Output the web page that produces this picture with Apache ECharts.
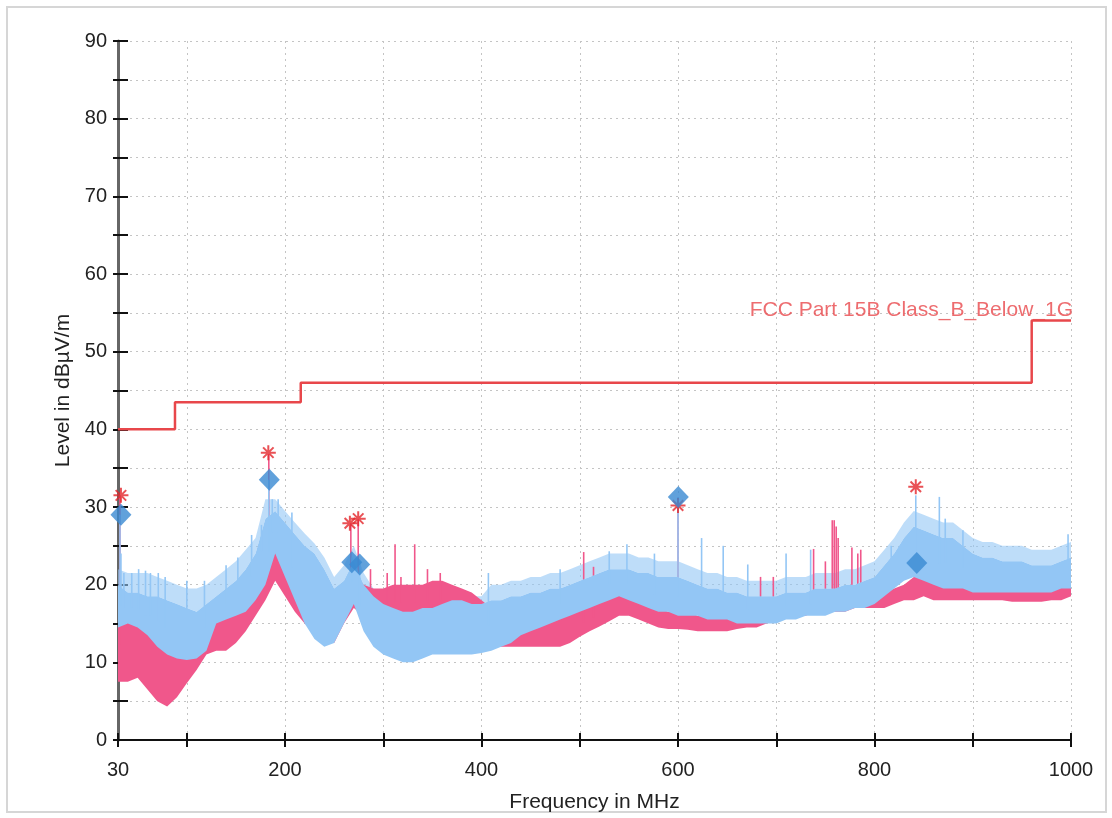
<!DOCTYPE html>
<html><head><meta charset="utf-8">
<script src="https://cdn.jsdelivr.net/npm/echarts@6/dist/echarts.min.js"></script>
<style>html,body{margin:0;padding:0;background:#fff;}#c{width:1112px;height:818px;}</style>
</head><body><div id="c"></div>
<script>
// Frequency samples (MHz)
const freqs = [30,40,50,60,70,80,90,100,110,120,130,140,150,160,170,180,190,200,210,220,230,240,250,260,270,280,290,300,310,320,330,340,350,360,370,380,390,400,410,420,430,440,450,460,470,480,490,500,510,520,530,540,550,560,570,580,590,600,610,620,630,640,650,660,670,680,690,700,710,720,730,740,750,760,770,780,790,800,810,820,830,840,850,860,870,880,890,900,910,920,930,940,950,960,970,980,990,1000];
// Blue trace: dense core (lo..hi) and reach of the noise above it (top)
const blueTop = [22,21.5,21.5,21.5,21,20.5,20,19.5,19.5,20,21,22,23,24.5,26,31,31,29.5,28,26.6,25.3,23.5,21,22.5,25,21.5,19.5,18.5,18,17.5,17.5,18,18,18.5,19,19,18.5,18.5,20,20,20.5,20.5,21,21,21.5,21.5,22,22.5,23,23.5,24,24,24,23.5,23.5,23,23,23,22.5,22,21.5,21.5,21,21,20.5,20.5,20.5,20.5,21,21,21,21.5,21.5,21.5,22,22,22.5,23,24.5,26,28,29.5,29,28.5,28,28,27,26,25.5,25.5,25,25,25,24.5,24.5,24.5,25,25.5];
const blueHi = [20,19,19,18.5,18.5,18,17.5,17,16.5,17.5,18.5,19.5,20.5,22,24,28.5,29.5,28,26.5,25,24,22,19.5,20.5,23,20,18.5,17.5,17,16.5,16.5,17,17,17.5,18,18,17.5,17.5,18,18,18.5,18.5,19,19,19.5,19.5,20,20.5,21,21.5,22,22,22,21.5,21.5,21,21,21,20.5,20,19.5,19.5,19,19,18.5,18.5,18.5,18.5,19,19,19,19.5,19.5,19.5,20,20,20.5,21,22.5,24,26,27.5,27,26.5,26,26,25,24,23.5,23.5,23,23,23,22.5,22.5,22.5,23,23.5];
const blueLo = [14.5,15,14.5,13.5,12,11,10.5,10.3,10.5,11.5,15,15.5,16,16.5,18,20,24,21,18,15,13,12,12.5,15,17.5,14,12,11,10.5,10,10,10.5,11,11,11,11,11,11.2,11.5,12,12.5,13.5,14,14.5,15,15.5,16,16.5,17,17.5,18,18.5,18,17.5,17,16.5,16.5,16,16,16,15.5,15.5,15.5,15,15,15,15,15,15.5,15.5,16,16,16,16.5,16.5,17,17,17.5,18.5,19.5,20.5,21,20.5,20,19.5,19.5,19.5,19,19,19,19,19,19,19,19,19,19.5,19.5];
// Pink trace envelope (dBµV/m)
const pinkHi = [17,16,15,14,13,12.5,12.5,13,14,15,16,17,18,19.5,21,25,27,23,21,19,17.5,16.5,17,19,22,20,19.5,19.5,20,20,20,20,20.5,20.5,20,19.5,19,18,17,16,15.5,15.5,15.5,15.5,15.5,16,16.5,17,17.5,18,18.5,19,18.5,18,17.5,17,16.5,17,16.5,16,16,16,16,16.5,16.5,17,17.5,18,18.5,18.5,18.5,19,19,19,19,19,19,19,19,19.5,20,21,21,20.5,20,20,20,20,20,20,20,20,20,20,20,20,20.5,20.5];
const pinkLo = [7.5,7.5,8,6.5,5,4.3,5.5,7.3,9,11,11.5,11.5,12.5,14,16,18,20.5,18.5,16.5,15,14,12.5,12.5,15,17,16,15.5,15,15.5,15.5,15.5,15.5,15.5,15.5,15.5,15,14.5,13.5,12.5,12,12,12,12,12,12,12,12.5,13.3,14,14.6,15.3,16,16,15.5,15,14.5,14.3,14.3,14.2,14,14,14,14,14.3,14.5,14.5,15,15.5,16,16,16,16.5,16.5,16.5,16.5,17,17,17,17,17.5,18,18,18.5,18,18,18,18,18,18,18,18,17.8,17.8,17.8,17.8,18,18,18.5];
// Narrow spikes (frequency, top level)
const blueSpikeF = [32,33,36,44,51,58,63,71,78,100,118,140,152,166,176,183.5,187,193,207,268,276,407,480,530,548,576,600,624,646,671,710,735,817,842,866,872,890,997];
const blueSpikeV = [29,24,21.5,21.5,22,21.8,21.5,21.5,21,20.5,20.5,22.5,23.5,26.4,27.7,33.5,31,31,29.3,23.5,23,21.5,22,24.3,25.2,24,31.3,26,25,22.6,24,24.5,25,31.5,31.3,28.5,27,26.5];
const pinkSpikeF = [32,183.5,267,274.5,287,304,312,318,332,345,358,504,514,600,684,697,738,750,757,759,761,763,777,783,786];
const pinkSpikeV = [31.5,36.8,27.9,28.4,22,21.5,25.2,21,25.2,22,21.5,24.2,22.3,30.2,21,21,24.6,23,28.3,28.3,27.5,26,24.8,24,24.5];
// Limit line
const limitF = [30,88,88,216,216,960,960,1000];
const limitV = [40,40,43.5,43.5,46,46,54,54];
const limitName = 'FCC Part 15B Class_B_Below_1G';
// Markers
const peakF = [33,183,266,274.5,600,842];
const peakV = [31.5,37,27.9,28.5,30.2,32.6];
const qpF = [33,184,268,276,600.3,843];
const qpV = [29,33.5,22.9,22.6,31.3,22.8];
// Axis ticks
const xTicks = [30,100,200,300,400,500,600,700,800,900,1000];
const xLabels = [30,200,400,600,800,1000];

const BLUE = '#93c6f5', BLUE_FRINGE = 'rgba(147,198,245,0.6)', PINK = '#f0578b', RED = '#e8474b';
const FONT = 'Liberation Sans, Arial, sans-serif';

// One filled polygon per band, placed through the chart's own scales
function bandSeries(name, lo, hi, color, z) {
  return {
    type: 'custom', name: name, z: z, silent: true,
    encode: { x: 0, y: [1, 2] },
    data: [[freqs[0], lo[0], hi[0]]],
    renderItem: function (params, api) {
      const pts = [];
      for (let i = 0; i < freqs.length; i++) pts.push(api.coord([freqs[i], hi[i]]));
      for (let i = freqs.length - 1; i >= 0; i--) pts.push(api.coord([freqs[i], lo[i]]));
      return { type: 'polygon', shape: { points: pts }, style: { fill: color } };
    }
  };
}
function nearestMid(f, lo, hi) {
  let best = 0;
  for (let i = 1; i < freqs.length; i++) if (Math.abs(freqs[i] - f) < Math.abs(freqs[best] - f)) best = i;
  return (lo[best] + hi[best]) / 2;
}
function spikeSeries(name, fs, vs, lo, hi, color, z) {
  return {
    type: 'custom', name: name, z: z, silent: true,
    encode: { x: 0, y: 1 },
    data: fs.map((f, i) => [f, vs[i], nearestMid(f, lo, hi)]),
    renderItem: function (params, api) {
      const a = api.coord([api.value(0), api.value(2)]);
      const b = api.coord([api.value(0), api.value(1)]);
      return { type: 'line', shape: { x1: a[0], y1: a[1], x2: b[0], y2: b[1] }, style: { stroke: color, lineWidth: 1.6 } };
    }
  };
}

const chart = echarts.init(document.getElementById('c'), null, { renderer: 'canvas' });
const tickStyle = { color: '#111', width: 2 };
chart.setOption({
  animation: false,
  backgroundColor: '#fff',
  textStyle: { fontFamily: FONT },
  graphic: [{ type: 'rect', shape: { x: 7, y: 7, width: 1099, height: 805 }, style: { fill: 'none', stroke: '#d6d6d6', lineWidth: 2 }, z: -10 }],
  grid: { left: 118, right: 41, top: 41, bottom: 78, containLabel: false, outerBoundsMode: 'none' },
  xAxis: [{
    type: 'value', min: 30, max: 1000, position: 'bottom',
    axisLine: { show: true, onZero: false, lineStyle: { color: '#111', width: 2 } },
    axisTick: { show: true, customValues: xTicks, length: 7, lineStyle: tickStyle },
    axisLabel: { customValues: xLabels, formatter: v => String(v), fontSize: 20, color: '#222', margin: 20, fontFamily: FONT },
    splitLine: { show: true, lineStyle: { color: '#c4c4c4', type: [2, 4], width: 1 } },
    name: 'Frequency in MHz', nameLocation: 'middle', nameGap: 52,
    nameTextStyle: { fontSize: 21, color: '#222', fontFamily: FONT }
  }, {
    type: 'value', min: 30, max: 1000, position: 'bottom',
    axisLine: { show: false, onZero: false },
    axisTick: { show: true, inside: true, customValues: xTicks, length: 7, lineStyle: tickStyle },
    axisLabel: { show: false }, splitLine: { show: false }
  }],
  yAxis: [{
    type: 'value', min: 0, max: 90, interval: 5, position: 'left',
    axisLine: { show: true, lineStyle: { color: '#666', width: 3 } },
    axisTick: { show: true, length: 5, lineStyle: tickStyle },
    axisLabel: { formatter: v => (v % 10 === 0 ? String(v) : ''), fontSize: 20, color: '#222', margin: 11, fontFamily: FONT },
    splitLine: { show: true, lineStyle: { color: '#c4c4c4', type: [2, 4], width: 1 } },
    name: 'Level in dBµV/m', nameLocation: 'middle', nameGap: 44,
    nameTextStyle: { fontSize: 21, color: '#222', fontFamily: FONT }
  }, {
    type: 'value', min: 0, max: 90, interval: 5, position: 'left',
    axisLine: { show: false },
    axisTick: { show: true, inside: true, length: 10, lineStyle: tickStyle },
    axisLabel: { show: false }, splitLine: { show: false }
  }],
  series: [
    bandSeries('blueFringe', blueHi, blueTop, BLUE_FRINGE, 1),
    bandSeries('pink', pinkLo, pinkHi, PINK, 2),
    spikeSeries('pinkSpikes', pinkSpikeF, pinkSpikeV, pinkLo, pinkHi, PINK, 3),
    bandSeries('blue', blueLo, blueHi, BLUE, 4),
    spikeSeries('blueSpikes', blueSpikeF, blueSpikeV, blueLo, blueHi, BLUE, 5),
    {
      type: 'line', name: 'limit', z: 6, silent: true, symbol: 'none',
      data: limitF.map((f, i) => [f, limitV[i]]),
      lineStyle: { color: RED, width: 2.5 }
    },
    {
      type: 'scatter', name: 'limitLabel', z: 6, silent: true,
      data: [[limitF[limitF.length - 1], limitV[limitV.length - 1]]],
      symbolSize: 1, itemStyle: { color: 'rgba(0,0,0,0)' },
      label: { show: true, formatter: limitName, position: 'top', align: 'right', distance: 0, offset: [2, 1], fontSize: 21, color: RED, fontFamily: FONT }
    },
    {
      type: 'scatter', name: 'peak', z: 10, silent: true,
      data: peakF.map((f, i) => [f, peakV[i]]),
      symbol: 'path://M0,-10L0,10M-10,0L10,0M-7,-7L7,7M-7,7L7,-7',
      symbolSize: 15,
      itemStyle: { color: 'none', borderColor: '#e3262b', borderWidth: 2 }
    },
    {
      type: 'scatter', name: 'qp', z: 11, silent: true,
      data: qpF.map((f, i) => [f, qpV[i]]),
      symbol: 'diamond', symbolSize: [21, 22],
      itemStyle: { color: '#3a8ad2' }
    }
  ]
});
</script>
</body></html>
